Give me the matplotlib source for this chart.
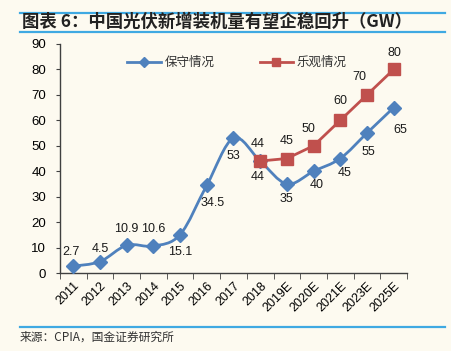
import numpy as np
import matplotlib
matplotlib.use("Agg")
import matplotlib.pyplot as plt
from matplotlib.path import Path
from matplotlib.patches import PathPatch
from matplotlib.lines import Line2D

plt.rcParams["font.family"] = ["Liberation Sans", "Noto Sans CJK SC"]

years = ["2011", "2012", "2013", "2014", "2015", "2016", "2017", "2018",
         "2019E", "2020E", "2021E", "2023E", "2025E"]
conservative = [2.7, 4.5, 10.9, 10.6, 15.1, 34.5, 53, 44, 35, 40, 45, 55, 65]
optimistic = [None, None, None, None, None, None, None, 44, 45, 50, 60, 70, 80]

blue = "#4F81BD"
red = "#C0504D"
bg = "#FDFAF0"
rule = "#3FA9E2"


def smooth_path(xs, ys):
    # Excel-style smoothed line: Catmull-Rom converted to cubic Bezier
    pts = np.column_stack([xs, ys]).astype(float)
    n = len(pts)
    verts = [pts[0]]
    codes = [Path.MOVETO]
    for i in range(n - 1):
        p0 = pts[max(i - 1, 0)]
        p1 = pts[i]
        p2 = pts[i + 1]
        p3 = pts[min(i + 2, n - 1)]
        c1 = p1 + (p2 - p0) / 6.0
        c2 = p2 - (p3 - p1) / 6.0
        verts += [c1, c2, p2]
        codes += [Path.CURVE4] * 3
    return Path(verts, codes)


fig = plt.figure(figsize=(4.52, 3.51), dpi=100, facecolor=bg)
ax = fig.add_axes([60 / 452, 1 - 273 / 351, 347 / 452, 229 / 351])
ax.set_facecolor(bg)

x = np.arange(len(years))

# conservative: smoothed line + diamonds
ax.add_patch(PathPatch(smooth_path(x, conservative), fill=False,
                       edgecolor=blue, linewidth=2.0, zorder=3))
ax.plot(x, conservative, linestyle="none", marker="D", markersize=7,
        color=blue, zorder=4)

# optimistic
opt_x = [i for i, v in enumerate(optimistic) if v is not None]
opt_y = [v for v in optimistic if v is not None]
ax.plot(opt_x, opt_y, color=red, linewidth=2.0, marker="s",
        markersize=8.5, zorder=5)

# labels (offsets in pixels)
blue_offsets = [(-2, 14), (0, 13), (0, 16), (0, 17), (0, -17), (6, -18),
                (0, -18), (-3, -16), (0, -15), (3, -14), (4, -15),
                (1, -19), (7, -22)]
for xi, v, off in zip(x, conservative, blue_offsets):
    ax.annotate(f"{v:g}", (xi, v), xytext=off, textcoords="offset pixels",
                ha="center", va="center", fontsize=9, color="#1a1a1a",
                zorder=6)

red_offsets = [(-3, 17), (0, 18), (-5, 17), (0, 19), (-8, 18), (1, 16)]
for xi, v, off in zip(opt_x, opt_y, red_offsets):
    ax.annotate(f"{v:g}", (xi, v), xytext=off, textcoords="offset pixels",
                ha="center", va="center", fontsize=9, color="#1a1a1a",
                zorder=6)

ax.set_xlim(-0.5, len(years) - 0.5)
ax.set_ylim(0, 90)
ax.set_yticks(range(0, 91, 10))
ax.set_xticks(x)
ax.set_xticklabels(years, rotation=45, ha="right", rotation_mode="anchor")
ax.set_xticks(np.arange(-0.5, len(years), 1.0), minor=True)
ax.tick_params(axis="x", which="major", length=0, pad=5, labelsize=9)
ax.tick_params(axis="x", which="minor", length=4, direction="out",
               color="#404040")
ax.tick_params(axis="y", length=3, direction="out", color="#404040",
               labelsize=9.5, pad=7)

for side in ["top", "right"]:
    ax.spines[side].set_visible(False)
for side in ["left", "bottom"]:
    ax.spines[side].set_color("#404040")
    ax.spines[side].set_linewidth(1.0)

handles = [
    Line2D([], [], color=blue, linewidth=2.0, marker="D", markersize=5),
    Line2D([], [], color=red, linewidth=2.0, marker="s", markersize=6),
]
fig.legend(handles, ["保守情况", "乐观情况"], ncol=2, frameon=False,
           loc="center left", bbox_to_anchor=(127 / 452, 1 - 63 / 351),
           borderpad=0, borderaxespad=0, handlelength=2.7,
           handletextpad=0.3, columnspacing=3.6, fontsize=9,
           labelcolor="#333333")

# title and rules
for y in (13, 32, 327):
    fig.add_artist(Line2D([20 / 452, 445 / 452], [1 - y / 351, 1 - y / 351],
                          color=rule, linewidth=1.6))

fig.text(22 / 452, 1 - 22 / 351, "图表 6：中国光伏新增装机量有望企稳回升（GW）",
         fontsize=12.5, fontweight="bold", va="center", ha="left",
         color="#222222", family=["Noto Sans CJK SC", "DejaVu Sans"])
fig.text(20 / 452, 1 - 337 / 351, "来源：CPIA，国金证券研究所",
         fontsize=8.5, va="center", ha="left", color="#333333",
         family=["Noto Sans CJK SC", "DejaVu Sans"])

fig.savefig("out.png", dpi=100, facecolor=bg)
